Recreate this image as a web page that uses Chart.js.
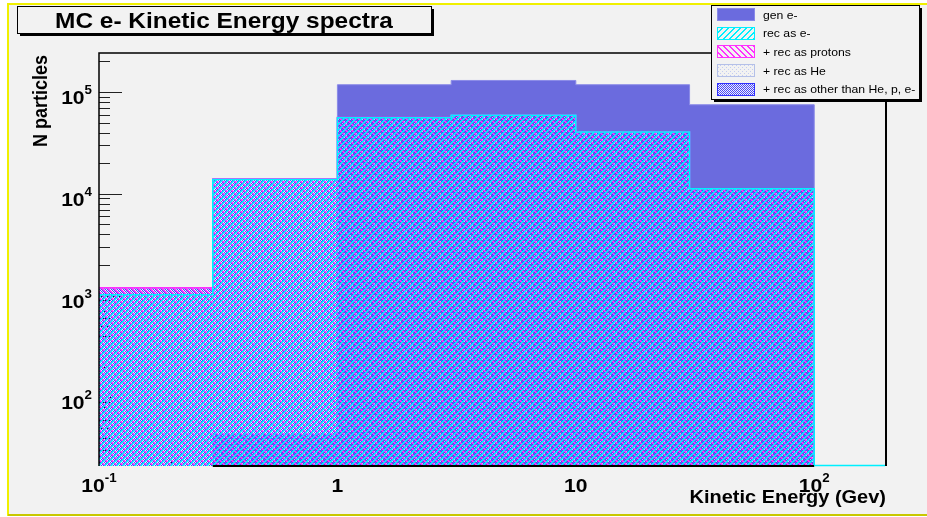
<!DOCTYPE html>
<html>
<head>
<meta charset="utf-8">
<script src="https://cdn.jsdelivr.net/npm/chart.js@4.4.0/dist/chart.umd.min.js"></script>
<style>
    body { margin: 0; background: #ffffff; }
    canvas { display: block; }
</style>
</head>
<body>
<canvas id="grafico" width="927" height="517"></canvas>
<script>
// histogram bins (GeV) and contents
var bin_edges = [0.1, 0.3, 1, 3, 10, 30, 100];
var gen_e = [0, 43, 118000, 130000, 118000, 75000];
var rec_e = [1020, 13800, 56000, 59000, 40500, 11200];
var rec_prot = [1190, 14000, 56200, 59000, 40500, 11200];
var rec_he = [1190, 14000, 56200, 59000, 40500, 11200];
var rec_other = [1190, 14000, 56200, 59000, 40500, 11200];
var series_names = ['gen e-', 'rec as e-', '+ rec as protons', '+ rec as He', '+ rec as other than He, p, e-'];

var x_min = 0.1, x_max = 200;
var y_min = 21.1, y_max = 242000;

var y_tick_values = [100, 1000, 10000, 100000];
var y_tick_base = ['10', '10', '10', '10'];
var y_tick_exp = ['2', '3', '4', '5'];
var x_tick_values = [0.1, 1, 10, 100];
var x_tick_base = ['10', '1', '10', '10'];
var x_tick_exp = ['-1', '', '', '2'];

var title_text = 'MC e- Kinetic Energy spectra';
var x_title = 'Kinetic Energy (Gev)';
var y_title = 'N particles';

var canvas = document.getElementById('grafico');
var ctx = canvas.getContext('2d');
var stretch = 1.11;

function make_pattern(size, color, cells) {
    var tile = document.createElement('canvas');
    tile.width = size;
    tile.height = size;
    var t = tile.getContext('2d');
    t.fillStyle = color;
    for (var k = 0; k < cells.length; k++) {
        t.fillRect(cells[k][0], cells[k][1], 1, 1);
    }
    return ctx.createPattern(tile, 'repeat');
}

var cells_fwd = [], cells_back = [];
for (var i = 0; i < 6; i++) {
    cells_fwd.push([i, 5 - i]);
    cells_fwd.push([i, (6 - i) % 6]);
    cells_back.push([i, i]);
    cells_back.push([i, (i + 1) % 6]);
}
var pat_e = make_pattern(6, '#00f0ff', cells_fwd);
var pat_prot = make_pattern(6, '#ff30ff', cells_back);
var pat_he = make_pattern(4, '#c4ccf0', [[0, 1], [2, 3]]);
var pat_other = make_pattern(2, '#4646ff', [[0, 0], [1, 1]]);

function hist_points(values, low) {
    var pts = [];
    for (var i = 0; i < values.length; i++) {
        pts.push({ x: bin_edges[i], y: values[i] > 0 ? values[i] : low });
    }
    pts.push({ x: bin_edges[values.length], y: values[values.length - 1] });
    pts.push({ x: bin_edges[values.length], y: low });
    pts.push({ x: x_max, y: low });
    return pts;
}

function hist_dataset(name, values, fill, border, width, order, low) {
    return {
        label: name,
        data: hist_points(values, low),
        stepped: 'before',
        fill: 'start',
        backgroundColor: fill,
        borderColor: border,
        borderWidth: width,
        pointRadius: 0,
        order: order
    };
}

function text_stretched(c, txt, x, y, align, font) {
    c.save();
    c.font = font;
    c.translate(x, y);
    c.scale(stretch, 1);
    c.textAlign = align;
    c.textBaseline = 'alphabetic';
    c.fillText(txt, 0, 0);
    c.restore();
}

function power_label(c, base, exp, x, y, align) {
    c.font = 'bold 19px "Liberation Sans", Arial, sans-serif';
    var wb = c.measureText(base).width * stretch;
    c.font = 'bold 12px "Liberation Sans", Arial, sans-serif';
    var we = exp ? c.measureText(exp).width * stretch : 0;
    var total = wb + we;
    var x0 = align == 'right' ? x - total : x - total / 2;
    c.fillStyle = '#000000';
    text_stretched(c, base, x0, y, 'left', 'bold 19px "Liberation Sans", Arial, sans-serif');
    if (exp) {
        text_stretched(c, exp, x0 + wb, y - 10, 'left', 'bold 12px "Liberation Sans", Arial, sans-serif');
    }
}

function shadow_box(c, x, y, w, h) {
    c.fillStyle = '#000000';
    c.fillRect(x + 3, y + 3, w, h);
    c.fillStyle = '#f2f2f2';
    c.fillRect(x, y, w, h);
    c.strokeStyle = '#000000';
    c.lineWidth = 1;
    c.strokeRect(x + 0.5, y + 0.5, w, h);
}

function xs_pixel(chart, v) {
    return chart.scales.x.getPixelForValue(v);
}

var root_style = {
    id: 'root_style',
    beforeDraw: function (chart) {
        var c = chart.ctx;
        c.save();
        c.fillStyle = '#ffffff';
        c.fillRect(0, 0, chart.width, chart.height);
        c.fillStyle = '#f2f2f2';
        c.fillRect(8, 3, chart.width - 8, chart.height - 4);
        c.fillStyle = '#f0f000';
        c.fillRect(8, 3, chart.width - 8, 2);
        c.fillRect(7, 3, 2, chart.height - 4);
        c.fillStyle = '#c8c800';
        c.fillRect(8, 514, chart.width - 8, 2);
        c.restore();
    },
    beforeDatasetsDraw: function (chart) {
        var c = chart.ctx;
        var xs = chart.scales.x, ys = chart.scales.y;
        var area = chart.chartArea;
        c.save();
        c.strokeStyle = '#222222';
        c.lineWidth = 1;
        c.beginPath();
        // y axis ticks, inside the frame
        for (var d = 10; d <= 1000000; d *= 10) {
            for (var k = 1; k <= 9; k++) {
                var v = d * k;
                if (v < y_min || v > y_max) continue;
                var py = Math.round(ys.getPixelForValue(v)) + 0.5;
                var len = k == 1 ? 23 : 11;
                c.moveTo(area.left, py);
                c.lineTo(area.left + len, py);
            }
        }
        // x axis ticks, upward from the bottom
        for (var d2 = 0.1; d2 <= 1000; d2 *= 10) {
            for (var k2 = 1; k2 <= 9; k2++) {
                var v2 = d2 * k2;
                if (v2 < x_min * 0.999 || v2 > x_max * 1.001) continue;
                var px = Math.round(xs.getPixelForValue(v2)) + 0.5;
                var len2 = k2 == 1 ? 12 : 6;
                c.moveTo(px, area.bottom);
                c.lineTo(px, area.bottom - len2);
            }
        }
        c.stroke();
        c.restore();
    },
    afterDatasetsDraw: function (chart) {
        var c = chart.ctx;
        var area = chart.chartArea;
        c.save();
        c.strokeStyle = '#000000';
        c.lineWidth = 1.5;
        c.beginPath();
        c.moveTo(area.left, area.bottom);
        c.lineTo(area.left, area.top);
        c.lineTo(area.right, area.top);
        c.stroke();
        c.lineWidth = 2;
        c.beginPath();
        c.moveTo(area.right, area.top);
        c.lineTo(area.right, area.bottom);
        c.moveTo(xs_pixel(chart, 0.3), area.bottom);
        c.lineTo(xs_pixel(chart, 100), area.bottom);
        c.stroke();
        c.strokeStyle = '#00f0ff';
        c.lineWidth = 1.5;
        c.beginPath();
        c.moveTo(xs_pixel(chart, 100), area.bottom - 0.5);
        c.lineTo(area.right - 1, area.bottom - 0.5);
        c.stroke();
        c.restore();
    },
    afterDraw: function (chart) {
        var c = chart.ctx;
        var xs = chart.scales.x, ys = chart.scales.y;
        var area = chart.chartArea;
        c.save();

        for (var i = 0; i < y_tick_values.length; i++) {
            var py = ys.getPixelForValue(y_tick_values[i]);
            power_label(c, y_tick_base[i], y_tick_exp[i], 92, py + 12, 'right');
        }
        for (var j = 0; j < x_tick_values.length; j++) {
            var px = xs.getPixelForValue(x_tick_values[j]);
            power_label(c, x_tick_base[j], x_tick_exp[j], px, 491.5, 'center');
        }

        c.fillStyle = '#000000';
        text_stretched(c, x_title, area.right, 503, 'right', 'bold 18px "Liberation Sans", Arial, sans-serif');

        c.save();
        c.translate(46.5, 101);
        c.scale(stretch, 1);
        c.rotate(-Math.PI / 2);
        c.fillStyle = '#000000';
        c.font = 'bold 18px "Liberation Sans", Arial, sans-serif';
        c.textAlign = 'center';
        c.fillText(y_title, 0, 0);
        c.restore();

        // title box
        shadow_box(c, 17, 6, 414, 27);
        c.fillStyle = '#000000';
        text_stretched(c, title_text, 224, 27.5, 'center', 'bold 22px "Liberation Sans", Arial, sans-serif');

        // legend box
        shadow_box(c, 711, 5, 208, 94);
        var ds = chart.data.datasets;
        for (var n = 0; n < ds.length; n++) {
            var cy = 14.5 + n * 18.7;
            var sx = 717, sw = 38, sh = 13;
            var sy = Math.round(cy - sh / 2);
            c.fillStyle = '#f2f2f2';
            c.fillRect(sx, sy, sw, sh);
            c.fillStyle = ds[n].backgroundColor;
            c.fillRect(sx, sy, sw, sh);
            c.strokeStyle = ds[n].borderColor;
            c.lineWidth = 1;
            c.strokeRect(sx + 0.5, sy + 0.5, sw - 1, sh - 1);
            c.fillStyle = '#000000';
            text_stretched(c, ds[n].label, 763, cy + 4, 'left', '11px "Liberation Sans", Arial, sans-serif');
        }
        c.restore();
    }
};

var config = {
    type: 'line',
    data: {
        datasets: [
            hist_dataset(series_names[0], gen_e, '#6b6bde', '#8a8ae8', 1, 5, 1),
            hist_dataset(series_names[1], rec_e, pat_e, '#00f0ff', 1.5, 1, y_min),
            hist_dataset(series_names[2], rec_prot, pat_prot, '#ff30ff', 1.5, 2, y_min),
            hist_dataset(series_names[3], rec_he, pat_he, '#b4c0e8', 1, 3, y_min),
            hist_dataset(series_names[4], rec_other, pat_other, '#3030ff', 1, 4, y_min)
        ]
    },
    options: {
        responsive: false,
        animation: false,
        layout: { padding: { left: 99, right: 41, top: 53, bottom: 51 } },
        plugins: {
            legend: { display: false },
            title: { display: false },
            tooltip: { enabled: false }
        },
        scales: {
            x: { type: 'logarithmic', min: x_min, max: x_max, display: false },
            y: { type: 'logarithmic', min: y_min, max: y_max, display: false }
        }
    },
    plugins: [root_style]
};

var meu_grafico = new Chart(ctx, config);
</script>
</body>
</html>
